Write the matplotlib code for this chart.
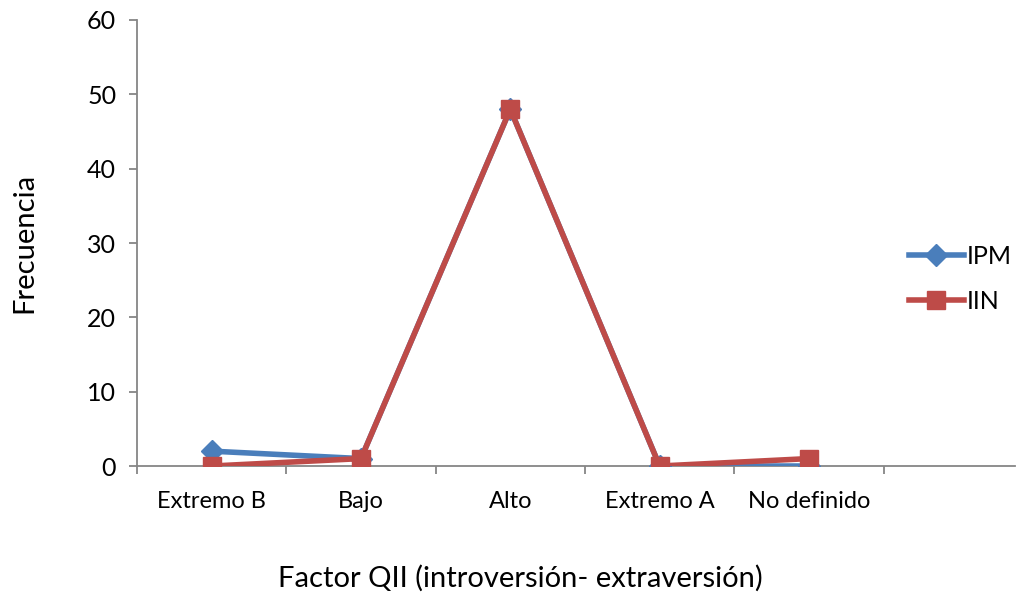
import matplotlib.pyplot as plt
from matplotlib.lines import Line2D

categorias = ['Extremo B', 'Bajo', 'Alto', 'Extremo A', 'No definido']
ipm = [2, 1, 48, 0, 0]
iin = [0, 1, 48, 0, 1]

azul = '#4A7EBB'
rojo = '#BE4B48'
gris = '#868686'

plt.rcParams['font.family'] = ['Lato', 'DejaVu Sans']

fig = plt.figure(figsize=(10.32, 5.97), dpi=100)
ax = fig.add_axes([0.1328, 0.2194, 0.8507, 0.7471])

x = list(range(len(categorias)))
ax.plot(x, ipm, color=azul, lw=4, marker='D', ms=11, mfc=azul, mec=azul, zorder=3)
ax.plot(x, iin, color=rojo, lw=4, marker='s', ms=13, mfc=rojo, mec=rojo, zorder=4)

ax.set_xlim(-0.5, 5.38)
ax.set_ylim(0, 60)
ax.set_yticks(range(0, 61, 10))
ax.set_xticks([i - 0.5 for i in range(6)])
ax.set_xticklabels([])
ax.set_xticks(x, minor=True)
ax.set_xticklabels(categorias, minor=True, fontsize=17)
ax.tick_params(axis='x', which='minor', length=0, pad=18)
ax.tick_params(axis='x', which='major', length=6, color=gris, width=1.3)
ax.tick_params(axis='y', length=6, color=gris, width=1.3, labelsize=18, pad=9)

for s in ['top', 'right']:
    ax.spines[s].set_visible(False)
for s in ['left', 'bottom']:
    ax.spines[s].set_color(gris)
    ax.spines[s].set_linewidth(1.3)

ax.set_xlabel('Factor QII (introversión- extraversión)', fontsize=21)
ax.xaxis.set_label_coords(0.437, -0.222)
ax.set_ylabel('Frecuencia', fontsize=21, labelpad=36)

handles = [
    Line2D([], [], color=azul, lw=4, marker='D', ms=11),
    Line2D([], [], color=rojo, lw=4, marker='s', ms=13),
]
fig.legend(handles, ['IPM', 'IIN'], loc='center left', bbox_to_anchor=(0.859, 0.533),
           frameon=False, fontsize=18, handlelength=2.2, handletextpad=0.1,
           labelspacing=0.9)

fig.savefig('out.png', dpi=100)
